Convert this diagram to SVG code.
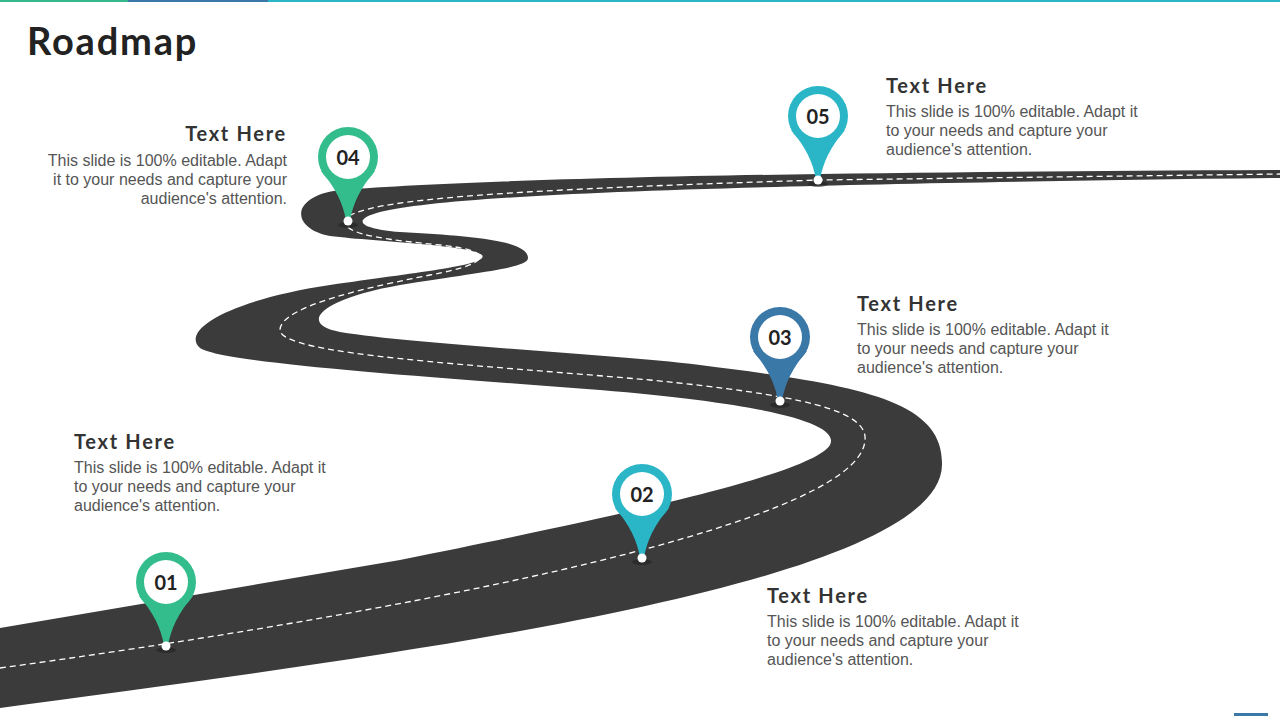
<svg xmlns="http://www.w3.org/2000/svg" width="1280" height="720" viewBox="0 0 1280 720">
<style>
.h{font-family:"Lato","Liberation Sans",sans-serif;font-weight:bold;font-size:20px;fill:#333;letter-spacing:1.7px}
.b{font-family:"Liberation Sans",Arial,sans-serif;font-size:16px;fill:#555}
.n{font-family:"Lato","Liberation Sans",sans-serif;font-weight:bold;font-size:20px;fill:#222;text-anchor:middle}
.r{text-anchor:end}
</style>
<defs>
<g id="pinshape">
<ellipse cx="0" cy="68" rx="10" ry="3" fill="#222" opacity="0.6"/>
<path d="M-27,14 Q-6,38 -2,64 L2,64 Q6,38 27,14 Z"/>
<circle r="30"/>
<circle r="22" fill="#fff"/>
<circle cy="64" r="4.5" fill="#fff"/>
</g>
</defs>
<rect width="1280" height="720" fill="#fff"/>
<rect x="0" y="0" width="128" height="2" fill="#35b98c"/>
<rect x="128" y="0" width="140" height="2" fill="#3a78a8"/>
<rect x="268" y="0" width="1012" height="2" fill="#2ab6c6"/>
<rect x="1234" y="713" width="34" height="3" fill="#3a78a8"/>
<text x="27" y="55" style="font-family:'Lato','Liberation Sans',sans-serif;font-weight:bold;font-size:38px;letter-spacing:1.8px;fill:#222">Roadmap</text>
<g id="connectors">
<path id="road" fill="#3b3b3b" d="M0,708 C350,660 940,590 942,465 C944,400 860,385 700,365 C600,353 420,345 340,332 C300,325 315,300 400,285 C480,272 528,268 528,258 C528,240 470,236 400,232 C360,229 350,220 380,212 C450,195 700,185 1280,178 L1280,170 C800,172 500,178 340,190 C290,196 290,228 330,236 C380,242 470,245 482,255 C490,265 420,272 330,285 C230,300 180,330 200,348 C220,362 400,375 600,390 C780,405 840,425 830,445 C815,468 700,500 400,560 L0,628 Z"/>
<path fill="none" stroke="#fff" stroke-width="1.3" stroke-dasharray="6,4" d="M0,668 C350,620 860,530 865,440 C868,410 800,395 650,380 C480,365 280,355 280,330 C280,305 380,285 430,275 C500,262 490,250 440,245 C390,240 345,235 345,222 C345,200 500,190 820,180 L1280,174"/>
</g>
<g id="pin01" transform="translate(166,582)" fill="#33bd8c"><use href="#pinshape"/><text class="n" y="8">01</text></g>
<g id="pin02" transform="translate(642,494)" fill="#2ab6c6"><use href="#pinshape"/><text class="n" y="8">02</text></g>
<g id="pin03" transform="translate(780,337)" fill="#3a78a8"><use href="#pinshape"/><text class="n" y="8">03</text></g>
<g id="pin04" transform="translate(348,157)" fill="#33bd8c"><use href="#pinshape"/><text class="n" y="8">04</text></g>
<g id="pin05" transform="translate(818,116)" fill="#2ab6c6"><use href="#pinshape"/><text class="n" y="8">05</text></g>
<g id="t04"><text class="h r" x="287" y="141">Text Here</text>
<text class="b r" x="287" y="166">This slide is 100% editable. Adapt</text>
<text class="b r" x="287" y="185">it to your needs and capture your</text>
<text class="b r" x="287" y="204">audience's attention.</text></g>
<g id="t05"><text class="h" x="886" y="93">Text Here</text>
<text class="b" x="886" y="117">This slide is 100% editable. Adapt it</text>
<text class="b" x="886" y="136">to your needs and capture your</text>
<text class="b" x="886" y="155">audience's attention.</text></g>
<g id="t03"><text class="h" x="857" y="311">Text Here</text>
<text class="b" x="857" y="335">This slide is 100% editable. Adapt it</text>
<text class="b" x="857" y="354">to your needs and capture your</text>
<text class="b" x="857" y="373">audience's attention.</text></g>
<g id="t01"><text class="h" x="74" y="449">Text Here</text>
<text class="b" x="74" y="473">This slide is 100% editable. Adapt it</text>
<text class="b" x="74" y="492">to your needs and capture your</text>
<text class="b" x="74" y="511">audience's attention.</text></g>
<g id="t02"><text class="h" x="767" y="603">Text Here</text>
<text class="b" x="767" y="627">This slide is 100% editable. Adapt it</text>
<text class="b" x="767" y="646">to your needs and capture your</text>
<text class="b" x="767" y="665">audience's attention.</text></g>
</svg>
